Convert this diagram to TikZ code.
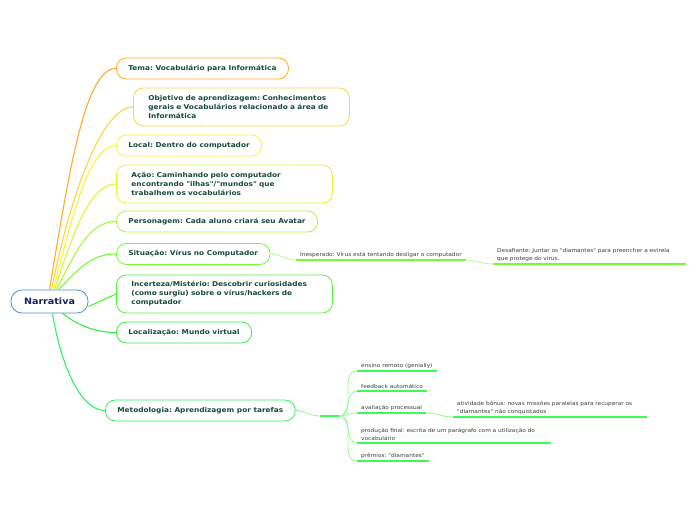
\documentclass[tikz,border=0pt]{standalone}
\usepackage{fontspec}
\setmainfont[FakeStretch=1.1,Ligatures=TeXOff]{DejaVu Sans}
\frenchspacing
\usetikzlibrary{positioning,calc}
\definecolor{rootclr}{RGB}{70,145,215}
\definecolor{roottxt}{RGB}{20,35,90}
\definecolor{nodetxt}{RGB}{25,75,60}
\definecolor{leaftxt}{RGB}{60,60,60}
\definecolor{temaclr}{RGB}{255,170,40}
\definecolor{objclr}{RGB}{255,212,60}
\definecolor{localclr}{RGB}{250,245,50}
\definecolor{acaoclr}{RGB}{215,250,50}
\definecolor{persclr}{RGB}{170,250,50}
\definecolor{sitclr}{RGB}{120,250,50}
\definecolor{incclr}{RGB}{80,248,50}
\definecolor{locclr}{RGB}{50,240,70}
\definecolor{metclr}{RGB}{50,240,100}
\definecolor{leafline}{RGB}{60,250,90}
\definecolor{fanclr}{RGB}{150,250,150}
\tikzset{
    rootbox/.style={rectangle,draw=rootclr,line width=0.8pt,fill=white,rounded corners=11pt,minimum width=77pt,minimum height=23pt,text=roottxt,font=\fontsize{8.7}{9}\selectfont\bfseries},
    topic/.style={rectangle,draw=#1,line width=0.8pt,fill=white,rounded corners=10pt,anchor=west,minimum height=21pt,inner xsep=12pt,text=nodetxt,font=\fontsize{6.7}{9}\selectfont\bfseries},
    longtopic/.style={topic=#1,minimum height=38pt,inner xsep=15pt,text width=186pt,align=left},
    leaf/.style={anchor=south west,inner xsep=4pt,inner ysep=2.5pt,align=left,text=leaftxt,font=\fontsize{5.3}{8}\selectfont},
    conn/.style={draw=#1,line width=1.1pt},
    under/.style={draw=#1,line width=1.6pt},
    fan/.style={draw=fanclr,line width=0.8pt},
}
\begin{document}
\begin{tikzpicture}[x=1pt,y=-1pt]
\useasboundingbox (0,0) rectangle (696,520);
% root and main topics
\node[rootbox] (root) at (49.5,301.5) {Narrativa};
\node[topic=temaclr]      (tema) at (116,68.5) {Tema: Vocabulário para Informática};
\node[longtopic=objclr]   (obj)  at (133,107)  {Objetivo de aprendizagem: Conhecimentos\\gerais e Vocabulários relacionado a área de\\Informática};
\node[topic=localclr]     (local) at (116,145.5) {Local: Dentro do computador};
\node[longtopic=acaoclr]  (acao) at (116,184)  {Ação: Caminhando pelo computador\\encontrando "ilhas"/"mundos" que\\trabalhem os vocabulários};
\node[topic=persclr]      (pers) at (116,221.5) {Personagem: Cada aluno criará seu Avatar};
\node[topic=sitclr]       (sit)  at (116,254)  {Situação: Vírus no Computador};
\node[longtopic=incclr]   (inc)  at (116,294)  {Incerteza/Mistério: Descobrir curiosidades\\(como surgiu) sobre o vírus/hackers de\\computador};
\node[topic=locclr]       (loc)  at (116,332.5) {Localização: Mundo virtual};
\node[topic=metclr]       (met)  at (105,410.5) {Metodologia: Aprendizagem por tarefas};

% connectors from the root
\draw[conn=temaclr]  ([xshift=0pt]root.north) .. controls +(20,-120) and +(-31,0) .. (tema.west);
\draw[conn=objclr]   ([xshift=2pt]root.north) .. controls +(20,-100) and +(-30,0) .. (obj.west);
\draw[conn=localclr] ([xshift=4pt]root.north) .. controls +(20,-80) and +(-26,0) .. (local.west);
\draw[conn=acaoclr]  ([xshift=5pt]root.north) .. controls +(20,-60) and +(-26,0) .. (acao.west);
\draw[conn=persclr]  ([xshift=7pt]root.north) .. controls +(20,-40) and +(-26,0) .. (pers.west);
\draw[conn=sitclr]   ([xshift=9pt]root.north) .. controls +(20,-20) and +(-26,0) .. (sit.west);
\draw[conn=incclr]   ([yshift=-5pt]root.east) -- (inc.west);
\draw[conn=locclr]   ([xshift=13pt]root.south) .. controls +(15,12) and +(-20,0) .. (loc.west);
\draw[conn=metclr]   ([xshift=3pt]root.south) .. controls +(8,50) and +(-25,0) .. (met.west);

% Situação leaves
\node[leaf] (ines) at (296,260) {Inesperado: Vírus está tentando desligar o computador};
\node[leaf,text width=185pt] (desaf) at (493,264) {Desafiante: Juntar os "diamantes" para preencher a estrela\\que protege do vírus.};
\draw[under=sitclr] (ines.south west) -- (ines.south east);
\draw[under=sitclr] (desaf.south west) -- (desaf.south east);
\draw[conn=sitclr!60,line width=0.7pt] (sit.east) to[out=0,in=180] (ines.south west);
\draw[conn=sitclr!60,line width=0.7pt] (ines.south east) to[out=0,in=180] (desaf.south west);

% Metodologia leaves
\coordinate (hubA) at (320,416);
\coordinate (hubB) at (339,416);
\node[leaf] (ensino) at (357,371) {ensino remoto (genially)};
\node[leaf] (feed)   at (357,391) {feedback automático};
\node[leaf] (aval)   at (357,413) {avaliação processual};
\node[leaf,text width=186pt] (ativ) at (453,417) {atividade bônus: novas missões paralelas para recuperar os\\"diamantes" não conquistados};
\node[leaf,text width=186pt] (prod) at (357,443) {produção final: escrita de um parágrafo com a utilização do\\vocabulário};
\node[leaf] (prem)   at (357,461) {prêmios: "diamantes"};
\draw[fan] (met.east) to[out=0,in=180] (hubA);
\draw[under=leafline] (hubA) -- (hubB);
\foreach \n in {ensino,feed,aval,prod,prem}{
    \draw[under=leafline] (\n.south west) -- (\n.south east);
    \draw[fan] (hubB) to[out=0,in=180] (\n.south west);
}
\draw[under=leafline] (ativ.south west) -- (ativ.south east);
\draw[fan] (aval.south east) to[out=0,in=180] (ativ.south west);
\end{tikzpicture}
\end{document}
